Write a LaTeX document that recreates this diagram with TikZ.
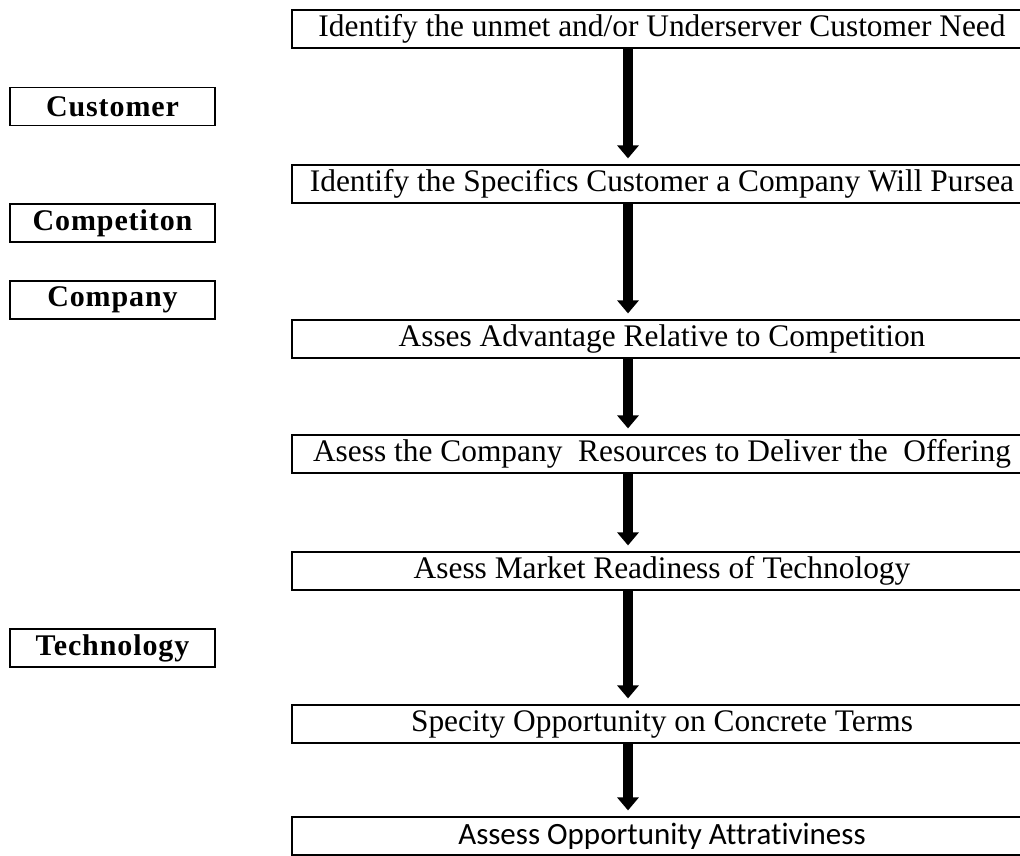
\documentclass[tikz,border=0pt]{standalone}
\usepackage{fontspec}
\setmainfont{Liberation Serif}
\newfontfamily\calibrifont[Ligatures=NoCommon]{Carlito}
\usetikzlibrary{arrows.meta}

\begin{document}
\begin{tikzpicture}[x=1pt,y=-1pt]

\def\boxWidth{740}
\def\boxHeight{38}
\def\arrowGap{6}
\def\textsize{31.4}
\def\labelsize{30}
\tikzset{
  stepbox/.style={draw, line width=1.2pt, minimum width=\boxWidth pt, minimum height=\boxHeight pt, inner sep=0pt, font=\fontsize{\textsize}{34}\selectfont},
  labelbox/.style={draw, line width=1.8pt, minimum width=205pt, minimum height=38pt, inner sep=0pt, font=\fontsize{\labelsize}{32}\selectfont\bfseries\addfontfeature{LetterSpace=3}},
  flow/.style={line width=10pt, -{Triangle[width=21pt,length=13pt]}, shorten >=\arrowGap pt}
}

\useasboundingbox (0,0) rectangle (1020,856);
\clip (0,0) rectangle (1020,856);

\coordinate (arrow-x) at (628,0);

%STEPS
\node[stepbox] (need-box) at (662,29) {Identify the unmet and/or Underserver Customer Need};
\node[stepbox] (pursue-box) at (662,184) {Identify the Specifics Customer a Company Will Pursea};
\node[stepbox] (advantage-box) at (662,339) {Asses Advantage Relative to Competition};
\node[stepbox] (resources-box) at (662,454) {Asess the Company\ \ Resources to Deliver the\ \ Offering};
\node[stepbox] (readiness-box) at (662,571) {Asess Market Readiness of Technology};
\node[stepbox] (terms-box) at (662,724) {Specity Opportunity on Concrete Terms};
\node[stepbox, font=\fontsize{31}{34}\calibrifont] (attractive-box) at (662,836) {Assess Opportunity Attrativiness};

%LABELS
\node[labelbox] (customer-label) at (112.5,106.5) {Customer};
\node[labelbox] (competition-label) at (112.5,223) {Competiton};
\node[labelbox] (company-label) at (112.5,300) {Company};
\node[labelbox] (technology-label) at (112.5,648) {Technology};

%ARROWS
\foreach \from/\to in {need-box/pursue-box, pursue-box/advantage-box, advantage-box/resources-box, resources-box/readiness-box, readiness-box/terms-box, terms-box/attractive-box}
  \draw[flow] (\from.south -| arrow-x) -- (\to.north -| arrow-x);

\end{tikzpicture}
\end{document}
